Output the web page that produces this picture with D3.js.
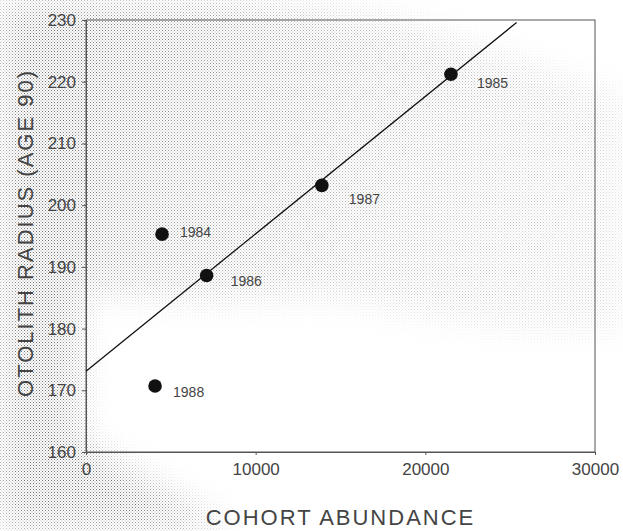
<!DOCTYPE html>
<html>
<head>
<meta charset="utf-8">
<script src="https://cdn.jsdelivr.net/npm/d3@7"></script>
<style>
  html, body { margin: 0; padding: 0; background: #fff; }
  svg { display: block; font-family: "Liberation Sans", Arial, Helvetica, sans-serif; }
</style>
</head>
<body>
<svg id="chart" width="623" height="531"></svg>
<script>
// ---- data ----
const years = ["1984", "1985", "1986", "1987", "1988"];
const abundance = [4480, 21510, 7110, 13900, 4070];
const otolithRadius = [195.3, 221.2, 188.6, 203.2, 170.7];
const fitLineX = [0, 25380];
const fitLineY = [173.1, 229.6];
const xTicks = [0, 10000, 20000, 30000];
const yTicks = [160, 170, 180, 190, 200, 210, 220, 230];
const xTitle = "COHORT ABUNDANCE";
const yTitle = "OTOLITH RADIUS (AGE 90)";

// ---- layout / style ----
const W = 623, H = 531;
const plotL = 86, plotR = 595, plotT = 20, plotB = 452;
const labelOffsets = { "1984": [18, -2], "1985": [26, 9], "1986": [24, 6], "1987": [27, 14], "1988": [18, 6] };
const textColor = "#444";

const svg = d3.select("#chart");
const defs = svg.append("defs");

// stipple texture (scanned-paper look)
const pat = defs.append("pattern").attr("id", "stipple")
  .attr("width", 3).attr("height", 3).attr("patternUnits", "userSpaceOnUse");
pat.append("rect").attr("x", 0).attr("y", 0).attr("width", 1).attr("height", 1).attr("fill", "#6a6a6a");
pat.append("rect").attr("x", 1.5).attr("y", 1.5).attr("width", 1).attr("height", 1).attr("fill", "#8a8a8a");

defs.append("filter").attr("id", "blur").attr("x", "-20%").attr("y", "-20%").attr("width", "140%").attr("height", "140%")
  .append("feGaussianBlur").attr("stdDeviation", 16);

const grad = defs.append("linearGradient").attr("id", "fadeRight")
  .attr("x1", "0").attr("y1", "0").attr("x2", "1").attr("y2", "0.3");
grad.append("stop").attr("offset", "0").attr("stop-color", "#fff").attr("stop-opacity", 1);
grad.append("stop").attr("offset", "0.6").attr("stop-color", "#fff").attr("stop-opacity", 0.55);
grad.append("stop").attr("offset", "1").attr("stop-color", "#fff").attr("stop-opacity", 0.35);

const mask = defs.append("mask").attr("id", "texMask");
const mg = mask.append("g").attr("filter", "url(#blur)");
const bgShapes = [
  { pts: [[0, 0], [80, 0], [80, 440], [230, 531], [0, 531]], fill: "#fff", op: 0.95 },
  { pts: [[80, 0], [230, 0], [400, 22], [600, 90], [623, 95], [623, 330], [520, 330], [330, 295], [200, 300], [80, 290]], fill: "url(#fadeRight)", op: 0.9 }
];
bgShapes.forEach(s => {
  mg.append("polygon").attr("points", s.pts.map(p => p.join(",")).join(" "))
    .attr("fill", s.fill).attr("fill-opacity", s.op);
});
svg.append("rect").attr("width", W).attr("height", H).attr("fill", "url(#stipple)").attr("mask", "url(#texMask)");

// ---- scales ----
const x = d3.scaleLinear().domain([0, 30000]).range([plotL, plotR]);
const y = d3.scaleLinear().domain([160, 230]).range([plotB, plotT]);

// frame
svg.append("rect").attr("x", plotL).attr("y", plotT).attr("width", plotR - plotL).attr("height", plotB - plotT)
  .attr("fill", "none").attr("stroke", "#555").attr("stroke-width", 1);

// axes
const xAxis = svg.append("g").attr("transform", `translate(0,${plotB})`)
  .call(d3.axisBottom(x).tickValues(xTicks).tickFormat(d3.format("d")).tickSize(3).tickPadding(8));
const yAxis = svg.append("g").attr("transform", `translate(${plotL},0)`)
  .call(d3.axisLeft(y).tickValues(yTicks).tickFormat(d3.format("d")).tickSize(4).tickPadding(6));
[xAxis, yAxis].forEach(a => {
  a.select(".domain").attr("stroke", "#555");
  a.selectAll(".tick line").attr("stroke", "#555");
  a.selectAll(".tick text").attr("fill", textColor).attr("font-size", 17)
    .attr("font-family", "'Liberation Sans', Arial, sans-serif");
});

// regression line
svg.append("line")
  .attr("x1", x(fitLineX[0])).attr("y1", y(fitLineY[0]))
  .attr("x2", x(fitLineX[1])).attr("y2", y(fitLineY[1]))
  .attr("stroke", "#111").attr("stroke-width", 1.3);

// points
const pts = years.map((yr, i) => ({ yr, a: abundance[i], r: otolithRadius[i] }));
svg.append("g").selectAll("circle").data(pts).join("circle")
  .attr("cx", d => x(d.a)).attr("cy", d => y(d.r)).attr("r", 6.8).attr("fill", "#111");
svg.append("g").selectAll("text").data(pts).join("text")
  .attr("x", d => x(d.a) + labelOffsets[d.yr][0])
  .attr("y", d => y(d.r) + labelOffsets[d.yr][1])
  .attr("dy", "0.35em").attr("font-size", 14).attr("fill", textColor)
  .text(d => d.yr);

// titles
svg.append("text").attr("x", (plotL + plotR) / 2).attr("y", 525)
  .attr("text-anchor", "middle").attr("font-size", 22).attr("letter-spacing", 2)
  .attr("fill", textColor).text(xTitle);
svg.append("text").attr("transform", "translate(33,233) rotate(-90)")
  .attr("text-anchor", "middle").attr("font-size", 22).attr("letter-spacing", 2)
  .attr("fill", textColor).text(yTitle);
</script>
</body>
</html>
